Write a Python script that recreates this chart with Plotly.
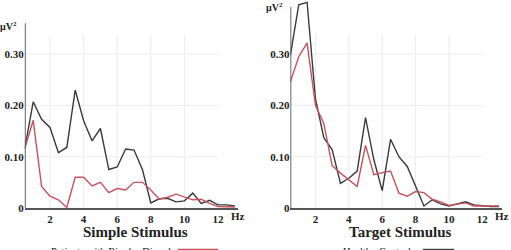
import plotly.graph_objects as go

hz = [0.5, 1.0, 1.5, 2.0, 2.5, 3.0, 3.5, 4.0, 4.5, 5.0, 5.5, 6.0, 6.5,
      7.0, 7.5, 8.0, 8.5, 9.0, 9.5, 10.0, 10.5, 11.0, 11.5, 12.0, 12.5, 13.0]

simple_controls = [0.116, 0.207, 0.173, 0.157, 0.108, 0.118, 0.230, 0.170, 0.131, 0.155,
                   0.075, 0.080, 0.115, 0.113, 0.075, 0.010, 0.018, 0.019, 0.012, 0.014,
                   0.029, 0.009, 0.015, 0.006, 0.006, 0.004]
simple_bipolar = [0.116, 0.171, 0.042, 0.023, 0.016, 0.001, 0.060, 0.060, 0.043, 0.050,
                  0.030, 0.038, 0.035, 0.050, 0.050, 0.035, 0.017, 0.021, 0.027, 0.021,
                  0.016, 0.017, 0.009, 0.003, 0.003, 0.002]
target_controls = [0.298, 0.396, 0.401, 0.213, 0.137, 0.114, 0.048, 0.058, 0.072, 0.176,
                   0.094, 0.034, 0.134, 0.100, 0.081, 0.042, 0.004, 0.016, 0.008, 0.004,
                   0.008, 0.012, 0.006, 0.004, 0.003, 0.003]
target_bipolar = [0.246, 0.295, 0.322, 0.200, 0.165, 0.083, 0.068, 0.055, 0.042, 0.122,
                  0.065, 0.069, 0.072, 0.029, 0.023, 0.032, 0.030, 0.017, 0.012, 0.005,
                  0.008, 0.010, 0.004, 0.004, 0.004, 0.004]

x_tickvals = [2, 4, 6, 8, 10, 12]
x_ticktext = ["2", "4", "6", "8", "10", "12"]
y_tickvals = [0, 0.1, 0.2, 0.3]
y_ticktext = ["0", "0.10", "0.20", "0.30"]
panel_titles = ["Simple Stimulus", "Target Stimulus"]
legend_names = ["Patients with Bipolar Disorder", "Healthy Controls"]

BLACK = "#3a3a3a"
RED = "#c9525c"
AXIS = "#555555"
GRID = "#ececec"
SERIF = "Liberation Serif, Times New Roman, DejaVu Serif, serif"

W, H = 511, 250
PLOT_H = 208

fig = go.Figure()
fig.add_trace(go.Scatter(x=hz, y=simple_controls, mode="lines", line=dict(color=BLACK, width=1.4),
                         xaxis="x", yaxis="y", showlegend=False))
fig.add_trace(go.Scatter(x=hz, y=simple_bipolar, mode="lines", line=dict(color=RED, width=1.4),
                         xaxis="x", yaxis="y", showlegend=False))
fig.add_trace(go.Scatter(x=hz, y=target_controls, mode="lines", line=dict(color=BLACK, width=1.4),
                         xaxis="x2", yaxis="y2", showlegend=False))
fig.add_trace(go.Scatter(x=hz, y=target_bipolar, mode="lines", line=dict(color=RED, width=1.4),
                         xaxis="x2", yaxis="y2", showlegend=False))

tickfont = dict(family=SERIF, size=11, color="#222", weight="bold")
xr = [0.5, 13.2]
yr = [0, 0.4055]

xcommon = dict(range=xr, showgrid=False, zeroline=False, showline=True, linecolor=AXIS,
               linewidth=1.8, tickvals=x_tickvals, ticktext=x_ticktext, ticks="",
               tickfont=tickfont, fixedrange=True, automargin=False)
ycommon = dict(range=yr, showgrid=False, zeroline=False, showline=False,
               tickvals=y_tickvals, ticktext=y_ticktext, ticks="", tickfont=tickfont,
               fixedrange=True, automargin=False)

fig.update_layout(
    width=W, height=H,
    margin=dict(l=0, r=0, t=0, b=H - PLOT_H, autoexpand=False),
    paper_bgcolor="white", plot_bgcolor="white",
    font=dict(family=SERIF),
    xaxis=dict(domain=[24.8 / W, 238.2 / W], anchor="y", **xcommon),
    yaxis=dict(domain=[0, 1], anchor="x", **ycommon),
    xaxis2=dict(domain=[290.4 / W, 502.4 / W], anchor="y2", **xcommon),
    yaxis2=dict(domain=[0, 1], anchor="x2", **ycommon),
)

shapes = []
annotations = []
for i, (xa, ya, ytop) in enumerate([("x", "y", 0.36), ("x2", "y2", 0.392)]):
    for v in [2, 4, 6, 8, 10]:
        shapes.append(dict(type="line", xref=xa, yref=ya, x0=v, x1=v, y0=0, y1=0.337,
                           line=dict(color=GRID, width=1), layer="below"))
    for v in [0.1, 0.2, 0.3]:
        shapes.append(dict(type="line", xref=xa, yref=ya, x0=0.5, x1=12, y0=v, y1=v,
                           line=dict(color=GRID, width=1), layer="below"))
    shapes.append(dict(type="line", xref=xa, yref=ya, x0=0.5, x1=0.5, y0=0, y1=ytop,
                       line=dict(color=AXIS, width=1.8)))
    annotations.append(dict(xref=xa, yref="paper", x=13.2, y=0, yshift=-8, text="Hz",
                            showarrow=False, font=tickfont, xanchor="center", yanchor="middle"))

unitfont = dict(family=SERIF, size=10, color="#222", weight="bold")
annotations.append(dict(xref="paper", yref="paper", x=8.5 / W, y=1, yshift=-26,
                        text="μV<sup>2</sup>", showarrow=False, font=unitfont,
                        xanchor="center", yanchor="middle"))
annotations.append(dict(xref="paper", yref="paper", x=274 / W, y=1, yshift=-7,
                        text="μV<sup>2</sup>", showarrow=False, font=unitfont,
                        xanchor="center", yanchor="middle"))

for cx, t in zip([135, 400], panel_titles):
    annotations.append(dict(xref="paper", yref="paper", x=cx / W, y=0, yshift=-24,
                            text=t, showarrow=False,
                            font=dict(family=SERIF, size=15, color="#222", weight="bold"),
                            xanchor="center", yanchor="middle"))

leg = [(115, 178, 218, RED, legend_names[0]), (378.5, 423, 454, BLACK, legend_names[1])]
for cx, l0, l1, col, name in leg:
    annotations.append(dict(xref="paper", yref="paper", x=cx / W, y=0, yshift=-43,
                            text=name, showarrow=False,
                            font=dict(family=SERIF, size=10.5, color="#222"),
                            xanchor="center", yanchor="middle"))
    shapes.append(dict(type="line", xref="paper", yref="paper", x0=l0 / W, x1=l1 / W,
                       y0=(PLOT_H - 249.5) / PLOT_H, y1=(PLOT_H - 249.5) / PLOT_H,
                       line=dict(color=col, width=1.4)))

fig.update_layout(shapes=shapes, annotations=annotations)
fig.write_html("out.html")
